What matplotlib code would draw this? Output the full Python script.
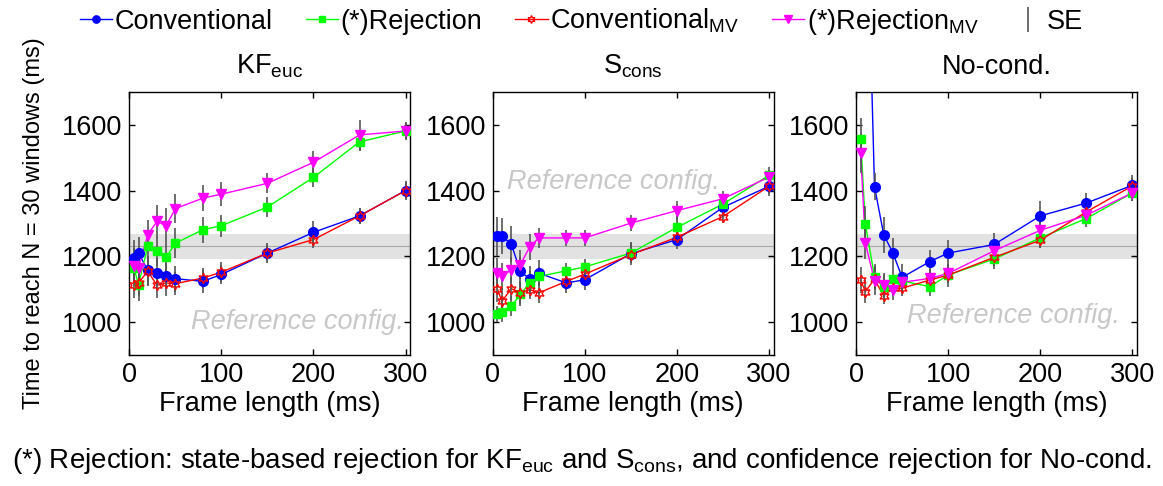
import numpy as np
import matplotlib
matplotlib.use('Agg')
import matplotlib.pyplot as plt
from matplotlib.lines import Line2D

plt.rcParams['font.family'] = ['Liberation Sans', 'DejaVu Sans']
plt.rcParams['mathtext.fontset'] = 'custom'
plt.rcParams['mathtext.rm'] = 'Liberation Sans'

# ---- data ----
frame_len = [5, 10, 20, 30, 40, 50, 80, 100, 150, 200, 250, 300]

panel_titles = [r'KF$_{\mathregular{euc}}$', r'S$_{\mathregular{cons}}$', 'No-cond.']

# KF_euc
kf_conv = [1195, 1210, 1157, 1150, 1140, 1132, 1124, 1145, 1210, 1273, 1323, 1400]
kf_rej = [1165, 1114, 1230, 1215, 1197, 1240, 1281, 1293, 1350, 1440, 1548, 1581]
kf_conv_mv = [1114, 1119, 1155, 1112, 1119, 1117, 1134, 1152, 1210, 1251, 1323, 1400]
kf_rej_mv = [1170, 1165, 1266, 1306, 1293, 1345, 1377, 1389, 1422, 1486, 1569, 1581]
kf_conv_se = [55, 50, 45, 45, 40, 40, 35, 30, 25, 35, 25, 30]
kf_rej_se = [45, 50, 45, 45, 40, 45, 40, 33, 30, 30, 28, 25]
kf_conv_mv_se = [40, 40, 45, 40, 40, 35, 30, 30, 30, 25, 25, 25]
kf_rej_mv_se = [55, 50, 45, 50, 55, 45, 40, 37, 30, 33, 45, 27]

# S_cons
sc_conv = [1261, 1261, 1238, 1154, 1132, 1149, 1119, 1129, 1208, 1251, 1349, 1413]
sc_rej = [1025, 1030, 1048, 1084, 1119, 1139, 1156, 1168, 1210, 1288, 1359, 1446]
sc_conv_mv = [1101, 1063, 1102, 1089, 1099, 1089, 1124, 1146, 1205, 1258, 1321, 1413]
sc_rej_mv = [1149, 1139, 1159, 1175, 1228, 1256, 1256, 1256, 1301, 1339, 1375, 1441]
sc_conv_se = [60, 55, 55, 45, 40, 40, 30, 30, 35, 30, 30, 30]
sc_rej_se = [25, 30, 30, 35, 35, 30, 25, 25, 30, 35, 30, 25]
sc_conv_mv_se = [40, 40, 35, 35, 30, 30, 25, 25, 25, 25, 20, 25]
sc_rej_mv_se = [45, 40, 40, 45, 40, 30, 25, 25, 25, 30, 25, 20]

# No-cond.
nc_conv = [2800, 2450, 1412, 1266, 1210, 1136, 1184, 1210, 1236, 1323, 1362, 1416]
nc_rej = [1556, 1299, 1138, 1108, 1130, 1125, 1108, 1143, 1192, 1256, 1315, 1393]
nc_conv_mv = [1128, 1093, 1130, 1080, 1103, 1103, 1128, 1143, 1197, 1249, 1335, 1414]
nc_rej_mv = [1513, 1241, 1126, 1113, 1098, 1121, 1133, 1148, 1217, 1279, 1325, 1393]
nc_conv_se = [60, 60, 40, 55, 45, 40, 35, 40, 35, 45, 30, 30]
nc_rej_se = [65, 55, 40, 35, 35, 30, 30, 35, 30, 30, 25, 25]
nc_conv_mv_se = [40, 35, 30, 25, 25, 25, 25, 25, 25, 25, 25, 25]
nc_rej_mv_se = [60, 50, 45, 35, 30, 30, 30, 30, 30, 30, 25, 25]

# reference configuration (mean +/- SE)
ref_mean = 1230
ref_se = 37

panels = [
    [(kf_conv, kf_conv_se), (kf_rej, kf_rej_se), (kf_conv_mv, kf_conv_mv_se), (kf_rej_mv, kf_rej_mv_se)],
    [(sc_conv, sc_conv_se), (sc_rej, sc_rej_se), (sc_conv_mv, sc_conv_mv_se), (sc_rej_mv, sc_rej_mv_se)],
    [(nc_conv, nc_conv_se), (nc_rej, nc_rej_se), (nc_conv_mv, nc_conv_mv_se), (nc_rej_mv, nc_rej_mv_se)],
]

# marker styles for the four methods
styles = [
    dict(color='#0000ff', marker='o', ms=7, mfc='#0000ff', mec='#0000ff'),
    dict(color='#00ff00', marker='s', ms=6, mfc='#00ff00', mec='#00ff00'),
    dict(color='#ff0000', marker=(6, 1, 0), ms=7.5, mfc='none', mec='#ff0000'),
    dict(color='#ff00ff', marker='v', ms=7, mfc='#ff00ff', mec='#ff00ff'),
]
ref_text_pos = [(298, 1000, 'right'), (15, 1425, 'left'), (287, 1020, 'right')]

FS = 19.5

fig = plt.figure(figsize=(11.63, 4.86), dpi=100)
lefts = [0.1112, 0.4237, 0.7361]
axes = []
for i in range(3):
    ax = fig.add_axes([lefts[i], 0.2695, 0.2415, 0.5415])
    axes.append(ax)
    ax.axhspan(ref_mean - ref_se, ref_mean + ref_se, color='#e2e2e2', lw=0, zorder=0)
    ax.axhline(ref_mean, color='#a8a8a8', lw=0.8, zorder=0.5)
    tx, ty, ha = ref_text_pos[i]
    ax.text(tx, ty, 'Reference config.', color='#c8c8c8', style='italic',
            fontsize=19.5, ha=ha, va='center', zorder=0.6)
    for (vals, se), st in zip(panels[i], styles):
        v = np.array(vals)
        e = np.array(se)
        ax.vlines(frame_len, v - e, v + e, color='#555555', lw=1.2, zorder=2)
        ax.plot(frame_len, v, color=st['color'], lw=1.0, zorder=1.5)
        ax.plot(frame_len, v, linestyle='none', marker=st['marker'], ms=st['ms'],
                mfc=st['mfc'], mec=st['mec'], mew=1.0, zorder=3)
    ax.set_xlim(0, 305)
    ax.set_ylim(900, 1700)
    ax.set_xticks([0, 100, 200, 300])
    ax.set_yticks([1000, 1200, 1400, 1600])
    ax.tick_params(direction='in', length=4, width=1, top=True, right=True,
                   labelsize=FS, pad=5)
    for sp in ax.spines.values():
        sp.set_linewidth(1.0)
    ax.set_xlabel('Frame length (ms)', fontsize=FS, labelpad=2)
    ax.set_title(panel_titles[i], fontsize=FS, pad=13)

axes[0].set_ylabel('Time to reach N = 30 windows (ms)', fontsize=17, labelpad=12)

# legend
labels = ['Conventional', '(*)Rejection', r'Conventional$_{\mathregular{MV}}$',
          r'(*)Rejection$_{\mathregular{MV}}$', 'SE']
handles = []
for st in styles:
    handles.append(Line2D([], [], color=st['color'], lw=1.0, marker=st['marker'],
                          ms=st['ms'] * 0.75, mfc=st['mfc'], mec=st['mec']))
handles.append(Line2D([], [], color='#555555', lw=0, marker='|', ms=18, mew=1.2))
fig.legend(handles, labels, loc='center', bbox_to_anchor=(0.5, 0.955), ncol=5,
           frameon=False, fontsize=FS, handlelength=1.2, handletextpad=0.1,
           columnspacing=1.2)

fig.text(0.5, 0.052, r'(*) Rejection: state-based rejection for KF$_{\mathregular{euc}}$ and '
         r'S$_{\mathregular{cons}}$, and confidence rejection for No-cond.',
         ha='center', va='center', fontsize=20)

fig.savefig('out.png', dpi=100)
